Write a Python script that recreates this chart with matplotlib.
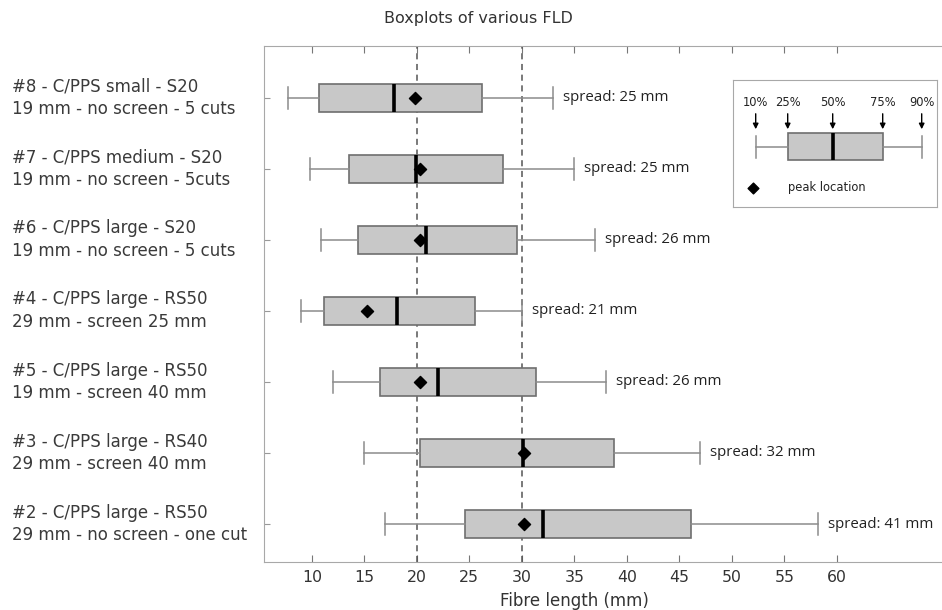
import matplotlib
matplotlib.use('Agg')
import matplotlib.pyplot as plt
from matplotlib.transforms import blended_transform_factory

plt.rcParams['font.family'] = ['DejaVu Sans']

# samples, top to bottom
labels = ['#8 - C/PPS small - S20\n19 mm - no screen - 5 cuts',
          '#7 - C/PPS medium - S20\n19 mm - no screen - 5cuts',
          '#6 - C/PPS large - S20\n19 mm - no screen - 5 cuts',
          '#4 - C/PPS large - RS50\n29 mm - screen 25 mm',
          '#5 - C/PPS large - RS50\n19 mm - screen 40 mm',
          '#3 - C/PPS large - RS40\n29 mm - screen 40 mm',
          '#2 - C/PPS large - RS50\n29 mm - no screen - one cut']
p10 = [7.7, 9.8, 10.9, 9.0, 12.0, 15.0, 17.0]
p25 = [10.7, 13.5, 14.4, 11.2, 16.5, 20.3, 24.6]
p50 = [17.8, 19.9, 20.9, 18.1, 22.0, 30.1, 32.0]
p75 = [26.2, 28.2, 29.5, 25.5, 31.3, 38.8, 46.1]
p90 = [33.0, 35.0, 37.0, 30.0, 38.0, 47.0, 58.2]
peak = [19.8, 20.3, 20.3, 15.3, 20.3, 30.2, 30.2]
spread = [25, 25, 26, 21, 26, 32, 41]

ref_lines = [20, 30]
xticks = [10, 15, 20, 25, 30, 35, 40, 45, 50, 55, 60]

# legend schematic
leg_pct = ['10%', '25%', '50%', '75%', '90%']
leg_vals = [22.7, 54.7, 99.7, 149.7, 188.7]

n = len(labels)
ypos = list(range(n, 0, -1))

fig = plt.figure(figsize=(9.42, 6.10), dpi=100)
ax = fig.add_axes([264/942, 48/610, 678/942, 516/610])

gray = '#8c8c8c'
stats = []
for i in range(n):
    stats.append({'whislo': p10[i], 'q1': p25[i], 'med': p50[i],
                  'q3': p75[i], 'whishi': p90[i], 'fliers': []})

ax.bxp(stats, positions=ypos, widths=0.386, capwidths=0.31, vert=False,
       patch_artist=True, showfliers=False,
       boxprops=dict(facecolor='#c8c8c8', edgecolor='#6e6e6e', linewidth=1.2),
       medianprops=dict(color='black', linewidth=2.6),
       whiskerprops=dict(color=gray, linewidth=1.1),
       capprops=dict(color=gray, linewidth=1.1), zorder=3)

ax.scatter(peak, ypos, marker='D', s=38, color='black', zorder=5)

for v in ref_lines:
    ax.axvline(v, color='#555555', linestyle=(0, (4, 3)), linewidth=1.1, zorder=2)

for i in range(n):
    ax.annotate('spread: %d mm' % spread[i], xy=(p90[i], ypos[i]),
                xytext=(7, 0), textcoords='offset points',
                va='center', ha='left', fontsize=10.8, color='#222222',
                family=['Open Sans', 'DejaVu Sans'])

ax.set_xlim(5.45, 70)
ax.set_ylim(0.465, 7.73)
ax.set_xticks(xticks)
ax.set_yticks(ypos)
ax.set_yticklabels([])
ax.tick_params(axis='x', direction='in', length=5, color='#777777',
               top=True, labelsize=11.3, labelcolor='#333333', pad=6)
ax.tick_params(axis='y', direction='in', length=4, color='#999999')
for s in ['left', 'bottom', 'top']:
    ax.spines[s].set_color('#a8a8a8')
ax.spines['right'].set_visible(False)

tr = blended_transform_factory(fig.transFigure, ax.transData)
for i in range(n):
    ax.text(12/942, ypos[i], labels[i], transform=tr, ha='left', va='center',
            fontsize=12, color='#3a3a3a', linespacing=1.35)

fig.text(574/942, 1 - 601/610, 'Fibre length (mm)', ha='center', va='center',
         fontsize=12, color='#333333')
fig.text(478/942, 1 - 18/610, 'Boxplots of various FLD', ha='center', va='center',
         fontsize=11.5, color='#333333')

# legend box
lg = fig.add_axes([733/942, 1 - 207/610, 204/942, 127/610])
for s in lg.spines.values():
    s.set_color('#a8a8a8')
lg.bxp([{'whislo': leg_vals[0], 'q1': leg_vals[1], 'med': leg_vals[2],
         'q3': leg_vals[3], 'whishi': leg_vals[4], 'fliers': []}],
       positions=[66.5], widths=27, capwidths=22, vert=False,
       patch_artist=True, showfliers=False,
       boxprops=dict(facecolor='#c8c8c8', edgecolor='#6e6e6e', linewidth=1.2),
       medianprops=dict(color='black', linewidth=2.6),
       whiskerprops=dict(color=gray, linewidth=1.1),
       capprops=dict(color=gray, linewidth=1.1))
lg.set_xlim(0, 204)
lg.set_ylim(127, 0)
lg.set_xticks([])
lg.set_yticks([])
for v, t in zip(leg_vals, leg_pct):
    lg.annotate('', xy=(v, 52), xytext=(v, 31),
                arrowprops=dict(arrowstyle='-|>', color='black', lw=1,
                                mutation_scale=8))
    lg.text(v, 22, t, ha='center', va='center', fontsize=8.3, color='#222222')
lg.scatter([20], [108], marker='D', s=30, color='black')
lg.text(55, 108, 'peak location', ha='left', va='center', fontsize=8.3,
        color='#222222')

fig.savefig('out.png', dpi=100)
